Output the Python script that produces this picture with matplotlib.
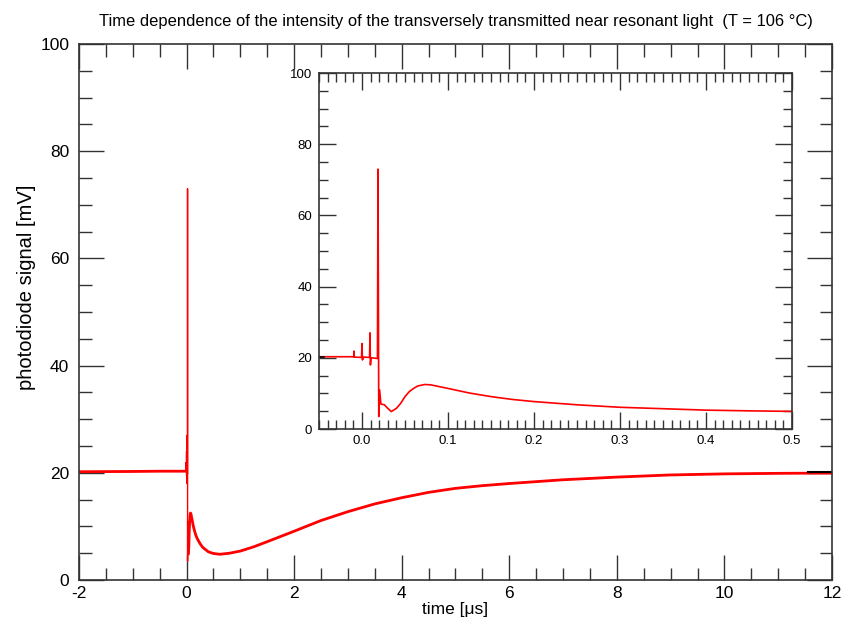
import matplotlib
matplotlib.use("Agg")
import matplotlib.pyplot as plt
from matplotlib.ticker import MultipleLocator, FixedLocator

plt.rcParams['font.family'] = ['Liberation Sans', 'DejaVu Sans']
plt.rcParams['axes.unicode_minus'] = False

# photodiode trace, time in microseconds, signal in mV
time_us = [-2.0, -1.0, -0.5, -0.05, -0.02, -0.0095, -0.0093, -0.009, -0.0005, 0.0,
           0.0005, 0.002, 0.0088, 0.0093, 0.0098, 0.0105, 0.015, 0.018, 0.0186, 0.0195,
           0.0205, 0.022, 0.026, 0.030, 0.034, 0.040, 0.045, 0.050, 0.055, 0.060,
           0.065, 0.073, 0.080, 0.090, 0.10, 0.125, 0.15, 0.175, 0.20, 0.25,
           0.30, 0.35, 0.40, 0.45, 0.50, 0.62, 0.8, 1.0, 1.25, 1.5,
           2.0, 2.5, 3.0, 3.5, 4.0, 4.5, 5.0, 5.5, 6.0, 7.0,
           8.0, 9.0, 10.0, 11.0, 12.0]
signal_mv = [20.2, 20.25, 20.3, 20.3, 20.3, 20.3, 21.9, 20.2, 20.1, 24.0,
             19.4, 20.2, 20.1, 27.0, 18.0, 20.0, 19.9, 19.8, 73.0, 3.5,
             11.0, 7.0, 6.8, 5.8, 4.9, 5.8, 7.2, 9.1, 10.5, 11.4,
             12.1, 12.5, 12.4, 11.9, 11.4, 10.1, 9.1, 8.3, 7.7, 6.8,
             6.1, 5.7, 5.3, 5.1, 4.95, 4.8, 5.0, 5.4, 6.2, 7.15,
             9.1, 11.1, 12.75, 14.2, 15.35, 16.35, 17.1, 17.6, 18.0, 18.7,
             19.2, 19.6, 19.8, 19.9, 19.95]

# short black reference marks on the baseline
main_ref_t = [11.55, 12.0]
main_ref_v = [20.2, 20.2]
inset_ref_t = [-0.05, -0.044]
inset_ref_v = [20.3, 20.3]

spine_col = "#333333"

# the fast spike samples are drawn thin, the slow noisy parts thick
pre = [(t, v) for t, v in zip(time_us, signal_mv) if t <= -0.01]
post = [(t, v) for t, v in zip(time_us, signal_mv) if t >= 0.034]

fig = plt.figure(figsize=(8.52, 6.24), dpi=100)

ax = fig.add_axes([0.0927, 0.0705, 0.8838, 0.859])
ax.plot(time_us, signal_mv, color="red", lw=1.0)
ax.plot([p[0] for p in pre], [p[1] for p in pre], color="red", lw=2.0)
ax.plot([p[0] for p in post], [p[1] for p in post], color="red", lw=2.0)
ax.plot(main_ref_t, main_ref_v, color="black", lw=1.5)
ax.set_xlim(-2, 12)
ax.set_ylim(0, 100)
ax.xaxis.set_major_locator(MultipleLocator(2))
ax.xaxis.set_minor_locator(MultipleLocator(0.5))
ax.yaxis.set_major_locator(MultipleLocator(20))
ax.yaxis.set_minor_locator(MultipleLocator(5))
ax.tick_params(which="both", direction="in", top=True, right=True, colors=spine_col, labelcolor="black")
ax.tick_params(which="major", length=18, width=1.0, labelsize=12.5)
ax.tick_params(which="minor", length=9, width=1.0)
ax.tick_params(axis="x", which="major", pad=4)
ax.tick_params(axis="y", which="major", pad=7)
for s in ax.spines.values():
    s.set_color(spine_col)
    s.set_linewidth(1.2)
ax.set_xlabel("time [\u03bcs]", fontsize=12.5, labelpad=1)
ax.set_ylabel("photodiode signal [mV]", fontsize=14.5)
ax.yaxis.set_label_coords(-0.057, 0.546)
ax.set_title("Time dependence of the intensity of the transversely transmitted near resonant light  (T = 106 \u00b0C)",
             fontsize=11.9, pad=13)

ins = fig.add_axes([0.3744, 0.3125, 0.5552, 0.5705])
ins.plot(time_us, signal_mv, color="red", lw=1.2)
ins.plot(inset_ref_t, inset_ref_v, color="black", lw=1.2)
ins.set_xlim(-0.05, 0.5)
ins.set_ylim(0, 100)
ins.xaxis.set_major_locator(FixedLocator([0.0, 0.1, 0.2, 0.3, 0.4, 0.5]))
ins.xaxis.set_minor_locator(MultipleLocator(0.01))
ins.set_xticklabels(["0.0", "0.1", "0.2", "0.3", "0.4", "0.5"])
ins.yaxis.set_major_locator(MultipleLocator(20))
ins.yaxis.set_minor_locator(MultipleLocator(5))
ins.tick_params(which="both", direction="in", top=True, right=True, colors=spine_col, labelcolor="black")
ins.tick_params(which="major", length=12, width=1.0, labelsize=9.5)
ins.tick_params(which="minor", length=6.5, width=1.0)
ins.tick_params(axis="x", which="major", pad=4)
ins.tick_params(axis="y", which="major", pad=5)
for s in ins.spines.values():
    s.set_color(spine_col)
    s.set_linewidth(1.2)

fig.savefig("out.png", dpi=100)
